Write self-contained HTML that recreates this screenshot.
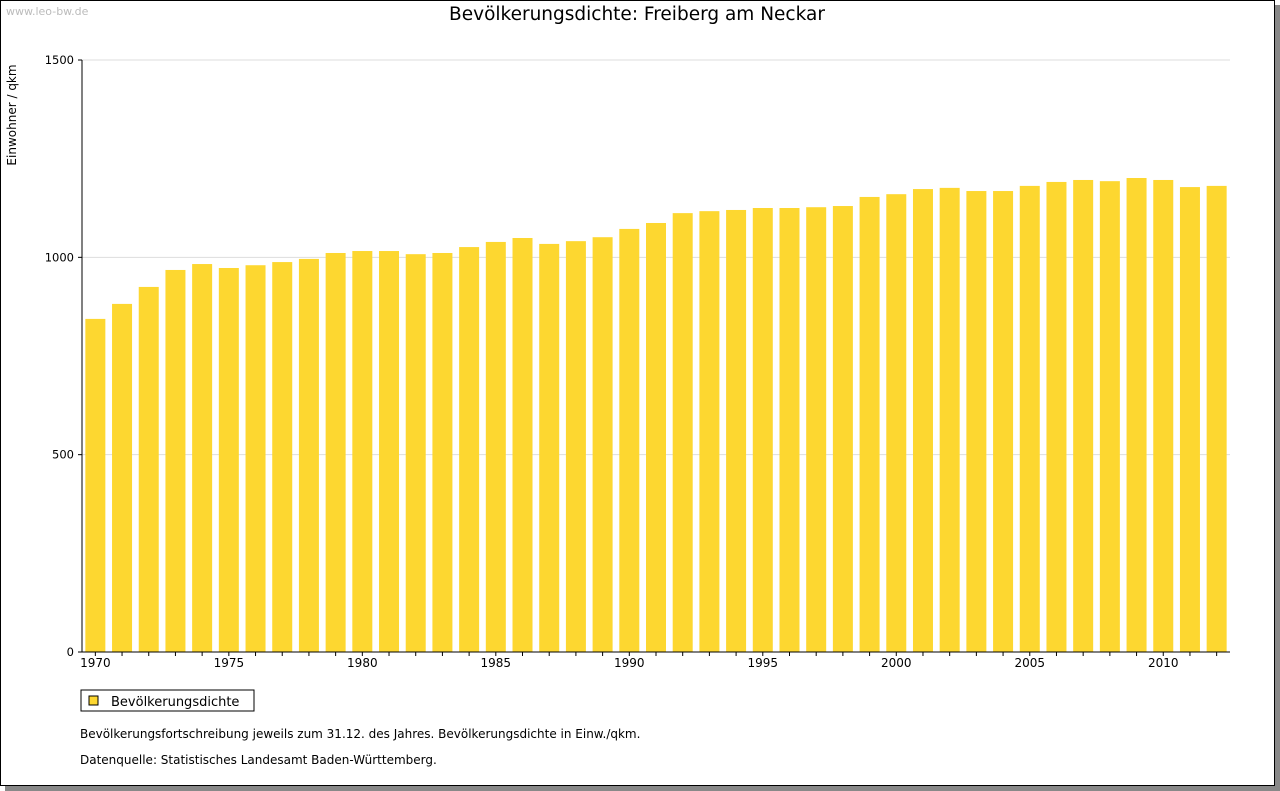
<!DOCTYPE html>
<html><head><meta charset="utf-8"><style>
body{margin:0;width:1280px;height:791px;background:#fff;overflow:hidden;font-family:"DejaVu Sans","Liberation Sans",sans-serif;}
#frame{position:absolute;left:0;top:0;width:1273px;height:784px;border:1px solid #000;background:#fff;box-shadow:5px 5px 0 #888;}
svg{position:absolute;left:0;top:0}
</style></head><body>
<div id="frame"></div>
<svg id="chart" width="1280" height="791" font-family="DejaVu Sans, Liberation Sans, sans-serif">
<text x="6" y="15" font-size="11" fill="#bbb">www.leo-bw.de</text>
<text x="637" y="20" font-size="18.5" text-anchor="middle" fill="#000">Bevölkerungsdichte: Freiberg am Neckar</text>
<text transform="translate(16,115) rotate(-90)" font-size="12" text-anchor="middle">Einwohner / qkm</text>
<g id="grid"></g><g id="bars"></g><g id="axes"></g>
<rect x="81" y="690" width="173" height="21" fill="#fff" stroke="#000"/>
<rect x="89" y="696" width="9" height="9" fill="#fdd730" stroke="#000"/>
<text x="111" y="706" font-size="13">Bevölkerungsdichte</text>
<text x="80" y="738" font-size="12">Bevölkerungsfortschreibung jeweils zum 31.12. des Jahres. Bevölkerungsdichte in Einw./qkm.</text>
<text x="80" y="764" font-size="12">Datenquelle: Statistisches Landesamt Baden-Württemberg.</text>
</svg>
<script>
const years=[];for(let y=1970;y<=2012;y++)years.push(y);
const values=[844,882,925,968,983,973,980,988,996,1011,1016,1016,1008,1011,1026,1039,1049,1034,1041,1051,1072,1087,1112,1117,1120,1125,1125,1127,1130,1153,1160,1173,1176,1168,1168,1181,1191,1196,1193,1201,1196,1178,1181];
const yTicks=[0,500,1000,1500];
const xLabels=[1970,1975,1980,1985,1990,1995,2000,2005,2010];
const NS='http://www.w3.org/2000/svg';
const L=82,R=1230,T=60,B=652,YMAX=1500;
const slot=(R-L)/years.length;
const ys=v=>B-(B-T)*v/YMAX;
const xs=i=>L+slot*(i+0.5);
function mk(t,a,p){const e=document.createElementNS(NS,t);for(const k in a)e.setAttribute(k,a[k]);p.appendChild(e);return e;}
const grid=document.getElementById('grid'),bars=document.getElementById('bars'),axes=document.getElementById('axes');
yTicks.forEach(v=>{
 const g=mk('line',{x1:L,x2:R,y1:ys(v),y2:ys(v),stroke:'#ddd'},grid);
 
 
 const t=mk('text',{x:L-8,y:ys(v)+4,'font-size':11.5,'text-anchor':'end'},axes);t.textContent=v;
 
 
 mk('line',{x1:L-4,x2:L,y1:ys(v),y2:ys(v),stroke:'#000'},axes);
});
values.forEach((v,i)=>{
 const r=mk('rect',{x:xs(i)-10,y:ys(v),width:20,height:B-ys(v),fill:'#fdd730'},bars);
 
 
 mk('line',{x1:xs(i),x2:xs(i),y1:B,y2:B+4,stroke:'#000'},axes);
});
xLabels.forEach(y=>{
 const i=years.indexOf(y);
 const t=mk('text',{x:xs(i),y:B+15,'font-size':12,'text-anchor':'middle'},axes);t.textContent=y;
 
 
});
const ya=mk('line',{x1:L,x2:L,y1:T,y2:B,stroke:'#000'},axes);


const xa=mk('line',{x1:L,x2:R,y1:B,y2:B,stroke:'#000'},axes);


</script>
</body></html>
